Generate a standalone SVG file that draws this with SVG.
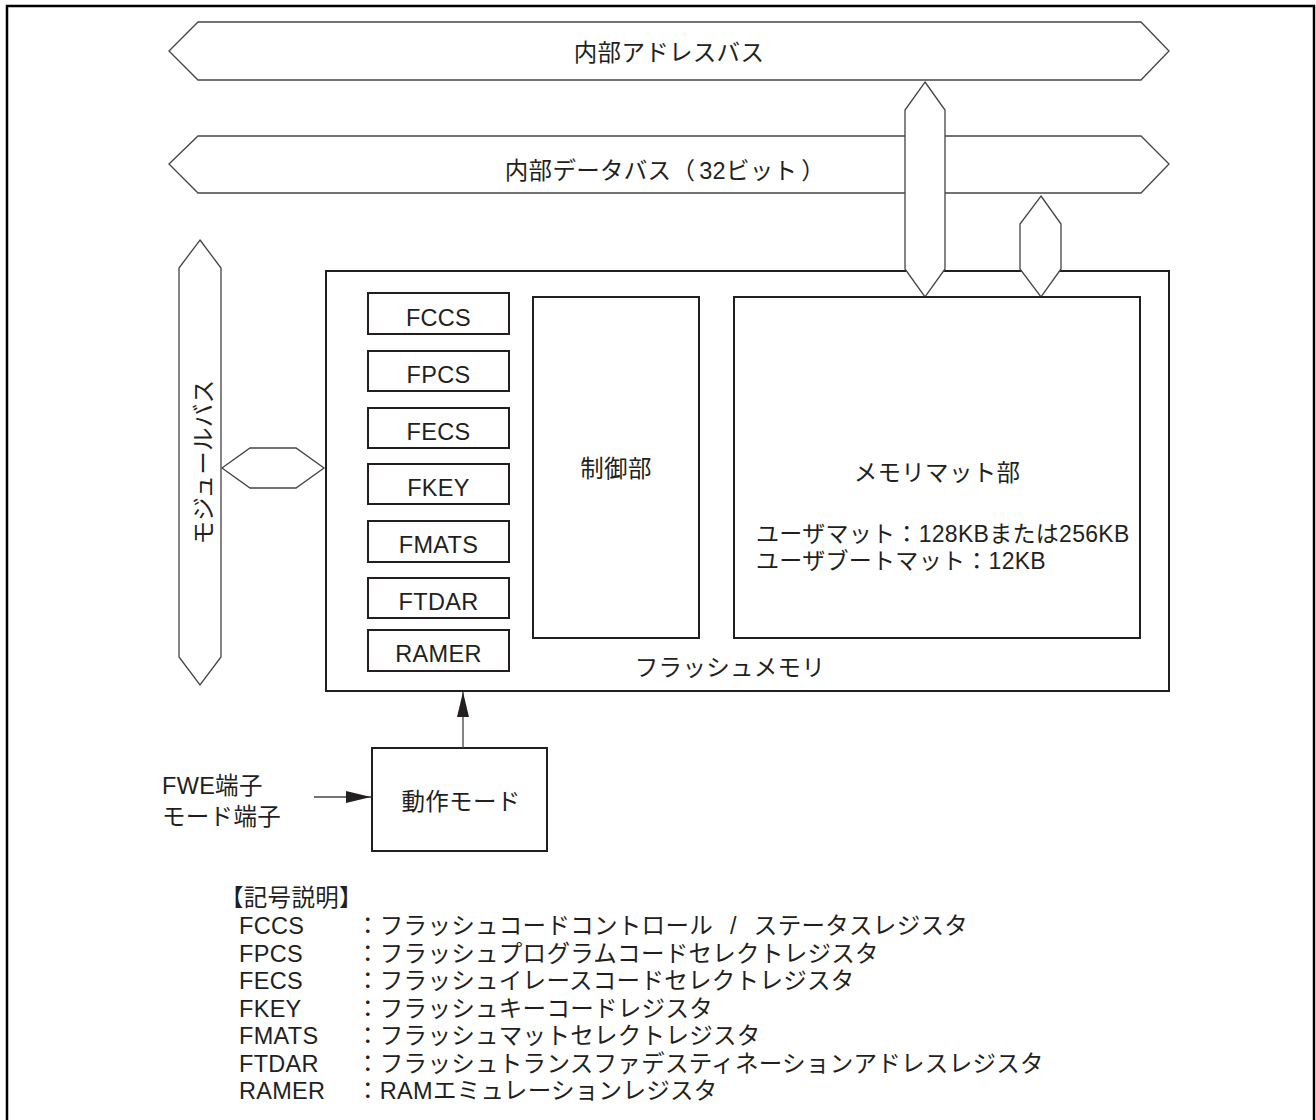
<svg xmlns="http://www.w3.org/2000/svg" width="1316" height="1120" viewBox="0 0 1316 1120">
<style>
text{font-family:"Liberation Sans","Noto Sans CJK JP",sans-serif;font-size:23.5px;letter-spacing:0.3px;fill:#231f20}
.c{text-anchor:middle}
.bus{fill:#fff;stroke:#444;stroke-width:1.3}
.box{fill:#fff;stroke:#231f20;stroke-width:2}
.wire{stroke:#444;stroke-width:1.3;fill:none}
</style>
<defs>
<marker id="ah" markerUnits="userSpaceOnUse" markerWidth="26" markerHeight="14" refX="25" refY="6" orient="auto">
<path d="M0,0 L25,6 L0,12 z" fill="#231f20"/>
</marker>
</defs>
<rect x="7" y="6" width="1307" height="1125" fill="#fff" stroke="#000" stroke-width="2.5"/>

<g id="bus-address">
<polygon class="bus" points="169,51 198,22 1141,22 1169,51 1141,80 198,80"/>
<text class="c" x="669" y="61">内部アドレスバス</text>
</g>
<g id="bus-data">
<polygon class="bus" points="169,164 198,136 1141,136 1169,164 1141,193 198,193"/>
<text class="c" x="665" y="179">内部データバス（<tspan dx="4">32ビット</tspan><tspan dx="4">）</tspan></text>
</g>

<g id="flash">
<rect class="box" x="326" y="271" width="843" height="420"/>
<text class="c" x="730" y="676">フラッシュメモリ</text>
</g>

<g id="bus-v1">
<polygon class="bus" points="925,82 945,110 945,269 925,297 905,269 905,110"/>
</g>
<g id="bus-v2">
<polygon class="bus" points="1041,196 1061,224 1061,269 1041,297 1020,269 1020,224"/>
</g>

<g id="bus-module">
<polygon class="bus" points="200,240 221,268 221,657 200,685 179,657 179,268"/>
<text class="c" transform="translate(212,462) rotate(-90)" x="0" y="0">モジュールバス</text>
</g>
<g id="bus-link">
<polygon class="bus" points="222,468 250,448 296,448 324,468 296,488 250,488"/>
</g>

<g id="reg-fccs"><rect class="box" x="368" y="293" width="141" height="41"/><text class="c" x="438.5" y="326">FCCS</text></g>
<g id="reg-fpcs"><rect class="box" x="368" y="351" width="141" height="40"/><text class="c" x="438.5" y="383">FPCS</text></g>
<g id="reg-fecs"><rect class="box" x="368" y="408" width="141" height="40"/><text class="c" x="438.5" y="440">FECS</text></g>
<g id="reg-fkey"><rect class="box" x="368" y="464" width="141" height="40"/><text class="c" x="438.5" y="496">FKEY</text></g>
<g id="reg-fmats"><rect class="box" x="368" y="521" width="141" height="41"/><text class="c" x="438.5" y="553">FMATS</text></g>
<g id="reg-ftdar"><rect class="box" x="368" y="578" width="141" height="40"/><text class="c" x="438.5" y="610">FTDAR</text></g>
<g id="reg-ramer"><rect class="box" x="368" y="630" width="141" height="41"/><text class="c" x="438.5" y="662">RAMER</text></g>

<g id="control">
<rect class="box" x="533" y="297" width="166" height="341"/>
<text class="c" x="616" y="477">制御部</text>
</g>

<g id="memmat">
<rect class="box" x="734" y="297" width="406" height="341"/>
<text class="c" x="937" y="481">メモリマット部</text>
<text x="756" y="542" style="font-size:23px">ユーザマット：128KBまたは256KB</text>
<text x="756" y="569" style="font-size:23px">ユーザブートマット：12KB</text>
</g>

<g id="opmode">
<rect class="box" x="372" y="748" width="175" height="103"/>
<text class="c" x="461" y="810">動作モード</text>
</g>

<g id="pins">
<text x="162" y="794">FWE端子</text>
<text x="162" y="825">モード端子</text>
</g>

<g id="connectors">
<line class="wire" x1="463" y1="748" x2="463" y2="692" marker-end="url(#ah)"/>
<line class="wire" x1="314" y1="797" x2="371" y2="797" marker-end="url(#ah)"/>
</g>

<g id="legend">
<text x="220" y="906">【記号説明】</text>
<text x="239" y="934">FCCS</text><text x="356" y="934">：フラッシュコードコントロール<tspan dx="17">/</tspan><tspan dx="17">ステータスレジスタ</tspan></text>
<text x="239" y="961.5">FPCS</text><text x="356" y="961.5">：フラッシュプログラムコードセレクトレジスタ</text>
<text x="239" y="989">FECS</text><text x="356" y="989">：フラッシュイレースコードセレクトレジスタ</text>
<text x="239" y="1016.5">FKEY</text><text x="356" y="1016.5">：フラッシュキーコードレジスタ</text>
<text x="239" y="1044">FMATS</text><text x="356" y="1044">：フラッシュマットセレクトレジスタ</text>
<text x="239" y="1071.5">FTDAR</text><text x="356" y="1071.5">：フラッシュトランスファデスティネーションアドレスレジスタ</text>
<text x="239" y="1099">RAMER</text><text x="356" y="1099">：RAMエミュレーションレジスタ</text>
</g>
</svg>
